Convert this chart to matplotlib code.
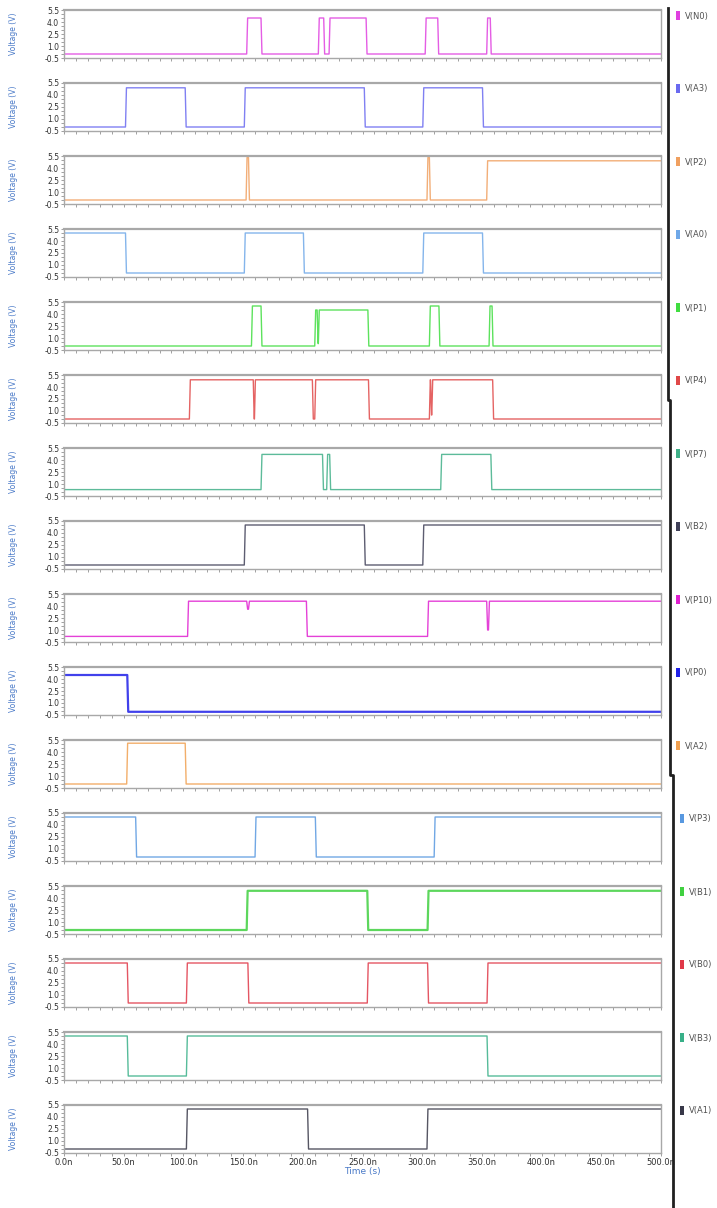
import numpy as np
import matplotlib.pyplot as plt
from matplotlib.lines import Line2D
from matplotlib.patches import Rectangle
from matplotlib.ticker import MultipleLocator, FixedLocator

# signal names (top to bottom), as in the simulator window
names = ["V(N0)", "V(A3)", "V(P2)", "V(A0)", "V(P1)", "V(P4)", "V(P7)", "V(B2)",
         "V(P10)", "V(P0)", "V(A2)", "V(P3)", "V(B1)", "V(B0)", "V(B3)", "V(A1)"]

# each waveform: times (ns) where the level changes, and the level after it (V)
n0_t = [0, 153, 165, 213, 217.5, 222, 253, 302.5, 313, 354, 357]
n0_v = [0, 4.5, 0, 4.5, 0, 4.5, 0, 4.5, 0, 4.5, 0]

a3_t = [0, 51.5, 101.5, 151, 251.5, 300.5, 350.5]
a3_v = [0, 4.9, 0, 4.9, 0, 4.9, 0]

p2_t = [0, 152.5, 154.5, 304, 306, 354]
p2_v = [0, 5.3, 0, 5.3, 0, 4.9]

a0_t = [0, 51.5, 151, 200.5, 300.5, 350.5]
a0_v = [5.0, 0, 5.0, 0, 5.0, 0]

p1_t = [0, 157, 165, 210, 212, 213, 254.5, 306, 314, 356, 358.5]
p1_v = [0, 5.0, 0, 4.5, 0.3, 4.5, 0, 5.0, 0, 5.0, 0]

p4_t = [0, 105, 158.5, 159.5, 208, 210, 255, 306, 307, 308, 359]
p4_v = [0, 4.9, 0, 4.9, 0, 4.9, 0, 4.9, 0.5, 4.9, 0]

p7_t = [0, 165, 216.5, 220, 222.5, 315.5, 357.5]
p7_v = [0.3, 4.7, 0.3, 4.7, 0.3, 4.7, 0.3]

b2_t = [0, 151, 251.5, 300.5]
b2_v = [0, 5.0, 0, 5.0]

p10_t = [0, 103.5, 153, 154.5, 203, 304.5, 354, 355.5]
p10_v = [0.2, 4.6, 3.6, 4.6, 0.2, 4.6, 1.0, 4.6]

p0_t = [0, 53]
p0_v = [4.5, -0.1]

a2_t = [0, 52.5, 101.5]
a2_v = [0, 5.1, 0]

p3_t = [0, 60, 160, 210.5, 310]
p3_v = [5.0, 0, 5.0, 0, 5.0]

b1_t = [0, 153, 254, 304.5]
b1_v = [0, 4.9, 0, 4.9]

b0_t = [0, 53, 102.5, 154, 254, 304.5, 354.3]
b0_v = [5.0, 0, 5.0, 0, 5.0, 0, 5.0]

b3_t = [0, 53, 102.5, 354.3]
b3_v = [5.0, 0, 5.0, 0]

a1_t = [0, 102.5, 204, 304]
a1_v = [0, 5.0, 0, 5.0]

times = [n0_t, a3_t, p2_t, a0_t, p1_t, p4_t, p7_t, b2_t,
         p10_t, p0_t, a2_t, p3_t, b1_t, b0_t, b3_t, a1_t]
levels = [n0_v, a3_v, p2_v, a0_v, p1_v, p4_v, p7_v, b2_v,
          p10_v, p0_v, a2_v, p3_v, b1_v, b0_v, b3_v, a1_v]

colors = ["#e040e0", "#6a6af0", "#f0a060", "#6fa8e8", "#40dd40", "#e04848", "#40b088", "#404058",
          "#e020d0", "#2020e8", "#f0a050", "#5898e0", "#40d040", "#e03848", "#38b088", "#383848"]

yticks = [-0.5, 1.0, 2.5, 4.0, 5.5]
xticks = [0, 50, 100, 150, 200, 250, 300, 350, 400, 450, 500]
xlabels = ["0.0n", "50.0n", "100.0n", "150.0n", "200.0n", "250.0n",
           "300.0n", "350.0n", "400.0n", "450.0n", "500.0n"]

T_END = 500.0
T_RISE = 0.8


def ramp(t, v):
    # step data -> points with a short rise/fall time
    xs, ys = [t[0]], [v[0]]
    for k in range(1, len(t)):
        xs += [t[k], t[k] + T_RISE]
        ys += [v[k - 1], v[k]]
    xs.append(T_END)
    ys.append(v[-1])
    return xs, ys


W, H = 717, 1208
fig = plt.figure(figsize=(W / 100, H / 100), dpi=100)

left, right = 64, 661
top0, step, ph = 10, 73, 48

for i in range(len(names)):
    top = top0 + step * i
    ax = fig.add_axes([left / W, 1 - (top + ph) / H, (right - left) / W, ph / H])
    xs, ys = ramp(times[i], levels[i])
    lw = 1.6 if names[i] in ("V(P0)", "V(B1)") else 1.0
    ax.plot(xs, ys, color=colors[i], lw=lw, alpha=0.85)
    ax.set_xlim(0, T_END)
    ax.set_ylim(-0.5, 5.5)
    ax.yaxis.set_major_locator(FixedLocator(yticks))
    ax.set_yticklabels(["%.1f" % y for y in yticks])
    ax.yaxis.set_minor_locator(MultipleLocator(0.5))
    ax.set_xticks(xticks)
    ax.xaxis.set_minor_locator(MultipleLocator(10))
    ax.tick_params(axis="both", which="both", direction="out", length=2, width=0.6,
                   color="#909090", labelsize=5.5, labelcolor="#303030", pad=1.5)
    if i < len(names) - 1:
        ax.set_xticklabels([])
    else:
        ax.set_xticklabels(xlabels, fontsize=6)
        ax.set_xlabel("Time (s)", fontsize=6.5, color="#4a7ac8", labelpad=0)
    for s in ax.spines.values():
        s.set_color("#a8a8a8")
        s.set_linewidth(1.0)
    ax.spines["top"].set_linewidth(1.6)
    ax.text(-0.085, 0.5, "Voltage (V)", transform=ax.transAxes, rotation=90,
            ha="center", va="center", fontsize=5.5, color="#4a7ac8")

    # legend entry on the right
    lx = 676 if i < 11 else 680
    fig.add_artist(Rectangle((lx / W, 1 - (top + 10) / H), 4 / W, 9 / H,
                             transform=fig.transFigure, color=colors[i], lw=0))
    fig.text((lx + 9) / W, 1 - (top + 6) / H, names[i], fontsize=6,
             color="#505050", va="center", ha="left")

# dark border of the stitched screenshot
fig.add_artist(Line2D([668 / W, 668 / W, 670 / W, 670 / W, 673 / W, 673 / W],
                      [1 - 8 / H, 1 - 400 / H, 1 - 400 / H, 1 - 775 / H, 1 - 775 / H, 0],
                      transform=fig.transFigure, color="#202020", lw=2))

fig.savefig("out.png", dpi=100)
